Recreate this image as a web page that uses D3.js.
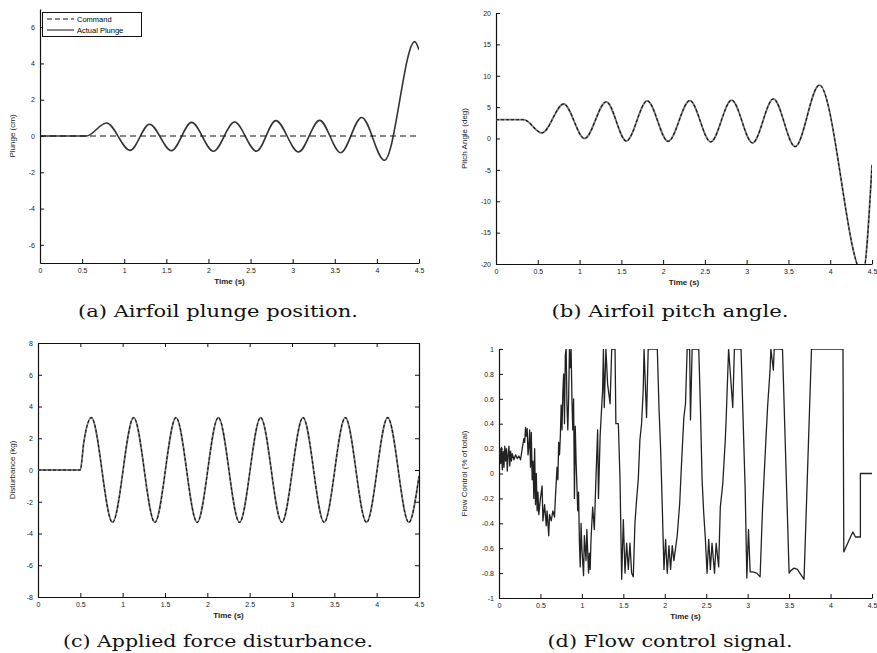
<!DOCTYPE html>
<html>
<head>
<meta charset="utf-8">
<script src="https://cdn.jsdelivr.net/npm/d3@7"></script>
<style>
  body { margin: 0; background: #fff; }
  .tick text { font-family: "Liberation Sans", Arial, sans-serif; font-size: 7px; fill: #222; }
  .axis-title { font-family: "Liberation Sans", Arial, sans-serif; font-size: 8px; font-weight: bold; fill: #222; }
  .caption { font-family: "DejaVu Serif", serif; font-size: 16px; fill: #111; }
</style>
</head>
<body>
<div id="chart"></div>
<script>
// Shared time axis ticks
const timeTicks = [0, 0.5, 1, 1.5, 2, 2.5, 3, 3.5, 4, 4.5];

// (a) plunge: command and actual response (peaks / troughs)
const commandTime = [0, 4.5];
const commandValue = [0, 0];
const plungeTime = [0, 0.55, 0.79, 1.07, 1.30, 1.56, 1.80, 2.06, 2.31, 2.57, 2.80, 3.07, 3.32, 3.57, 3.82, 4.09, 4.45, 4.5];
const plungeValue = [0, 0, 0.72, -0.79, 0.65, -0.81, 0.75, -0.84, 0.77, -0.84, 0.85, -0.88, 0.86, -0.92, 1.02, -1.34, 5.2, 4.75];
const plungeTicks = [-6, -4, -2, 0, 2, 4, 6];

// (b) pitch angle
const pitchTime = [0, 0.33, 0.55, 0.81, 1.06, 1.32, 1.56, 1.81, 2.06, 2.32, 2.57, 2.82, 3.07, 3.32, 3.58, 3.87, 4.39, 4.5];
const pitchValue = [3, 3, 0.9, 5.5, 0, 5.85, -0.4, 6.0, -0.45, 6.05, -0.55, 6.1, -0.7, 6.3, -1.3, 8.5, -21.5, -4.2];
const pitchTicks = [-20, -15, -10, -5, 0, 5, 10, 15, 20];

// (c) applied force disturbance
const disturbanceTime = [0, 0.5, 0.54, 0.63, 0.88, 1.13, 1.38, 1.63, 1.88, 2.13, 2.38, 2.63, 2.88, 3.13, 3.38, 3.63, 3.88, 4.13, 4.38, 4.5];
const disturbanceValue = [0, 0, 1.7, 3.3, -3.3, 3.3, -3.3, 3.3, -3.3, 3.3, -3.3, 3.3, -3.3, 3.3, -3.3, 3.3, -3.3, 3.3, -3.3, -0.4];
const disturbanceTicks = [-8, -6, -4, -2, 0, 2, 4, 6, 8];

// (d) flow control signal
const flowTime = [
  0.00, 0.01, 0.02, 0.03, 0.04, 0.05, 0.06, 0.07, 0.08, 0.09, 0.10, 0.11, 0.12, 0.13, 0.14, 0.15, 0.16, 0.18, 0.20, 0.22,
  0.24, 0.26, 0.28, 0.30, 0.31, 0.32, 0.33, 0.34, 0.35, 0.36, 0.37, 0.38, 0.39, 0.40, 0.41, 0.42, 0.43, 0.44, 0.45, 0.46,
  0.47, 0.48, 0.50, 0.52, 0.53, 0.55, 0.57, 0.58, 0.60, 0.61, 0.63, 0.65, 0.67, 0.68, 0.70, 0.71, 0.72, 0.73, 0.74, 0.75,
  0.76, 0.77, 0.78, 0.79, 0.80, 0.81, 0.82, 0.83, 0.84, 0.85, 0.86, 0.87, 0.88, 0.89, 0.90, 0.91, 0.92, 0.93, 0.95, 0.96,
  0.97, 0.98, 0.99, 1.00, 1.02, 1.03, 1.05, 1.06, 1.08, 1.09, 1.10, 1.11, 1.13, 1.15, 1.17, 1.19, 1.20, 1.22, 1.25, 1.26,
  1.27, 1.29, 1.31, 1.34, 1.36, 1.40, 1.41, 1.44, 1.46, 1.48, 1.50, 1.52, 1.54, 1.56, 1.58, 1.60, 1.62, 1.64, 1.66, 1.68,
  1.70, 1.72, 1.74, 1.75, 1.78, 1.80, 1.91, 1.93, 1.95, 1.97, 1.99, 2.01, 2.03, 2.05, 2.07, 2.09, 2.11, 2.15, 2.18, 2.20,
  2.23, 2.25, 2.27, 2.30, 2.31, 2.33, 2.41, 2.43, 2.45, 2.47, 2.49, 2.51, 2.53, 2.55, 2.57, 2.60, 2.62, 2.65, 2.67, 2.70,
  2.73, 2.74, 2.77, 2.82, 2.84, 2.92, 2.95, 2.97, 2.99, 3.01, 3.03, 3.06, 3.11, 3.15, 3.18, 3.22, 3.24, 3.27, 3.28, 3.31,
  3.32, 3.42, 3.50, 3.52, 3.56, 3.60, 3.64, 3.68, 3.77, 4.15, 4.16, 4.24, 4.27, 4.30, 4.36, 4.36, 4.50
];
const flowValue = [
  0.15, 0.20, 0.08, 0.21, 0.03, 0.18, 0.05, 0.22, 0.10, 0.20, 0.02, 0.15, 0.22, 0.06, 0.18, 0.10, 0.16, 0.11, 0.15, 0.12,
  0.14, 0.11, 0.20, 0.28, 0.25, 0.37, 0.30, 0.36, 0.15, 0.22, 0.35, 0.05, 0.33, -0.05, 0.10, -0.20, 0.20, -0.25, 0.00, -0.30,
  -0.15, -0.33, -0.20, -0.10, -0.38, -0.25, -0.42, -0.30, -0.50, -0.33, -0.38, -0.30, -0.35, -0.20, 0.05, -0.05, 0.25, 0.15, 0.30, 0.55,
  0.35, 0.65, 0.80, 0.40, 0.95, 1.00, 0.55, 0.35, 0.60, 1.00, 0.85, 1.00, 0.60, 0.35, 0.60, -0.20, 0.38, 0.10, -0.30, -0.15,
  -0.55, -0.75, -0.40, -0.60, -0.82, -0.50, -0.70, -0.45, -0.80, -0.64, -0.77, -0.53, -0.27, -0.45, -0.03, 0.35, -0.20, 0.30, 0.67, 1.00,
  0.53, 1.00, 0.72, 0.56, 1.00, 1.00, 0.40, 0.40, -0.05, -0.85, -0.37, -0.80, -0.56, -0.77, -0.56, -0.80, -0.83, -0.40, -0.21, -0.05,
  0.27, 0.40, 0.67, 1.00, 0.45, 1.00, 1.00, 0.53, 0.19, -0.27, -0.77, -0.53, -0.80, -0.58, -0.77, -0.58, -0.70, -0.50, -0.24, 0.05,
  0.45, 0.56, 1.00, 1.00, 0.43, 1.00, 1.00, 0.53, -0.05, -0.32, -0.53, -0.80, -0.53, -0.77, -0.56, -0.80, -0.56, -0.75, -0.27, -0.08,
  0.27, 0.43, 1.00, 0.53, 1.00, 1.00, 0.32, -0.13, -0.84, -0.45, -0.79, -0.79, -0.80, -0.83, -0.27, 0.27, 0.53, 0.83, 1.00, 0.83,
  1.00, 1.00, -0.80, -0.78, -0.76, -0.77, -0.81, -0.85, 1.00, 1.00, -0.63, -0.51, -0.47, -0.51, -0.51, 0.00, 0.00
];
const flowTicks = [-1, -0.8, -0.6, -0.4, -0.2, 0, 0.2, 0.4, 0.6, 0.8, 1];

const captions = [
  "(a) Airfoil plunge position.",
  "(b) Airfoil pitch angle.",
  "(c) Applied force disturbance.",
  "(d) Flow control signal."
];

// zip two arrays into point objects
function toPoints(times, values) {
  return times.map(function(t, i) { return { t: t, v: values[i] }; });
}

const svg = d3.select('#chart')
  .append('svg')
  .attr('width', 877)
  .attr('height', 653);

// Panel layout (pixel boxes of each axes area)
const panels = [
  { left: 40, right: 419, top: 9, bottom: 263, domain: [-7, 7], ticks: plungeTicks,
    yTitle: 'Plunge (cm)', yTitleX: 15, box: false,
    caption: captions[0], capX: 218, capY: 317, capLen: 280 },
  { left: 496, right: 872, top: 13, bottom: 264, domain: [-20, 20], ticks: pitchTicks,
    yTitle: 'Pitch Angle (deg)', yTitleX: 467, box: false,
    caption: captions[1], capX: 670, capY: 317, capLen: 237 },
  { left: 38, right: 419, top: 343, bottom: 597, domain: [-8, 8], ticks: disturbanceTicks,
    yTitle: 'Disturbance (kg)', yTitleX: 15, box: true,
    caption: captions[2], capX: 218, capY: 647, capLen: 310 },
  { left: 499, right: 872, top: 349, bottom: 598, domain: [-1, 1], ticks: flowTicks,
    yTitle: 'Flow Control (% of total)', yTitleX: 467, box: false,
    caption: captions[3], capX: 670, capY: 647, capLen: 245 }
];

panels.forEach(function(p, i) {
  p.x = d3.scaleLinear().domain([0, 4.5]).range([p.left, p.right]);
  p.y = d3.scaleLinear().domain(p.domain).range([p.bottom, p.top]);
  p.id = i;
  drawAxes(p);
});

// clip paths so curves stay inside plot area
panels.forEach(function(p) {
  svg.append('clipPath').attr('id', 'clip' + p.id)
    .append('rect')
    .attr('x', p.left).attr('y', p.top)
    .attr('width', p.right - p.left).attr('height', p.bottom - p.top);
});

function lineFor(p, curve) {
  return d3.line()
    .x(function(d) { return p.x(d.t); })
    .y(function(d) { return p.y(d.v); })
    .curve(curve);
}

// (a) plunge
const pa = panels[0];
svg.append('path')
  .attr('clip-path', 'url(#clip0)')
  .attr('d', lineFor(pa, d3.curveMonotoneX)(toPoints(plungeTime, plungeValue)))
  .attr('fill', 'none').attr('stroke', '#333').attr('stroke-width', 1.6);
svg.append('path')
  .attr('clip-path', 'url(#clip0)')
  .attr('d', lineFor(pa, d3.curveLinear)(toPoints(commandTime, commandValue)))
  .attr('fill', 'none').attr('stroke', '#111').attr('stroke-width', 1)
  .attr('stroke-dasharray', '6,4');

// (b) pitch and (c) disturbance: command dashed over the actual trace
[[panels[1], pitchTime, pitchValue], [panels[2], disturbanceTime, disturbanceValue]].forEach(function(s) {
  const p = s[0];
  const d = lineFor(p, d3.curveMonotoneX)(toPoints(s[1], s[2]));
  svg.append('path')
    .attr('clip-path', 'url(#clip' + p.id + ')')
    .attr('d', d)
    .attr('fill', 'none').attr('stroke', '#777').attr('stroke-width', 1.8);
  svg.append('path')
    .attr('clip-path', 'url(#clip' + p.id + ')')
    .attr('d', d)
    .attr('fill', 'none').attr('stroke', '#111').attr('stroke-width', 1.1)
    .attr('stroke-dasharray', '3,2');
});

// (d) flow control
const pd = panels[3];
svg.append('path')
  .attr('clip-path', 'url(#clip3)')
  .attr('d', lineFor(pd, d3.curveLinear)(toPoints(flowTime, flowValue)))
  .attr('fill', 'none').attr('stroke', '#222').attr('stroke-width', 1.3)
  .attr('stroke-linejoin', 'round');

// legend for panel (a)
const legend = svg.append('g');
legend.append('rect')
  .attr('x', 42.5).attr('y', 12.5).attr('width', 99).attr('height', 24)
  .attr('fill', '#fff').attr('stroke', '#111').attr('stroke-width', 1);
legend.append('line')
  .attr('x1', 47).attr('x2', 74).attr('y1', 19).attr('y2', 19)
  .attr('stroke', '#111').attr('stroke-dasharray', '5,3');
legend.append('line')
  .attr('x1', 47).attr('x2', 74).attr('y1', 30).attr('y2', 30)
  .attr('stroke', '#111');
legend.append('text').attr('class', 'tick').attr('x', 77).attr('y', 21.5)
  .style('font-family', 'Liberation Sans, Arial, sans-serif').style('font-size', '7.5px')
  .text('Command');
legend.append('text').attr('x', 77).attr('y', 32.5)
  .style('font-family', 'Liberation Sans, Arial, sans-serif').style('font-size', '7.5px')
  .text('Actual Plunge');

// axes, titles and caption for one panel
function drawAxes(p) {
  const fmt = function(d) { return String(d); };

  svg.append('g')
    .attr('transform', `translate(0,${p.bottom})`)
    .call(d3.axisBottom(p.x).tickValues(timeTicks).tickFormat(fmt)
      .tickSizeInner(-4).tickSizeOuter(0).tickPadding(5))
    .call(styleAxis);

  svg.append('g')
    .attr('transform', `translate(${p.left},0)`)
    .call(d3.axisLeft(p.y).tickValues(p.ticks).tickFormat(fmt)
      .tickSizeInner(-4).tickSizeOuter(0).tickPadding(5))
    .call(styleAxis);

  if (p.box) {
    svg.append('g')
      .attr('transform', `translate(0,${p.top})`)
      .call(d3.axisTop(p.x).tickValues(timeTicks).tickFormat('')
        .tickSizeInner(-4).tickSizeOuter(0))
      .call(styleAxis);
    svg.append('g')
      .attr('transform', `translate(${p.right},0)`)
      .call(d3.axisRight(p.y).tickValues(p.ticks).tickFormat('')
        .tickSizeInner(-4).tickSizeOuter(0))
      .call(styleAxis);
  }

  svg.append('text')
    .attr('class', 'axis-title')
    .attr('x', (p.left + p.right) / 2)
    .attr('y', p.bottom + 21)
    .attr('text-anchor', 'middle')
    .text('Time (s)');

  svg.append('text')
    .attr('class', 'axis-title')
    .attr('transform', `translate(${p.yTitleX},${(p.top + p.bottom) / 2}) rotate(-90)`)
    .attr('text-anchor', 'middle')
    .style('font-weight', 'normal')
    .text(p.yTitle);

  svg.append('text')
    .attr('class', 'caption')
    .attr('x', p.capX - p.capLen / 2)
    .attr('y', p.capY)
    .attr('textLength', p.capLen)
    .attr('lengthAdjust', 'spacingAndGlyphs')
    .text(p.caption);
}

function styleAxis(g) {
  g.select('.domain').attr('stroke', '#111').attr('stroke-width', 1.2);
  g.selectAll('.tick line').attr('stroke', '#111');
}
</script>
</body>
</html>
